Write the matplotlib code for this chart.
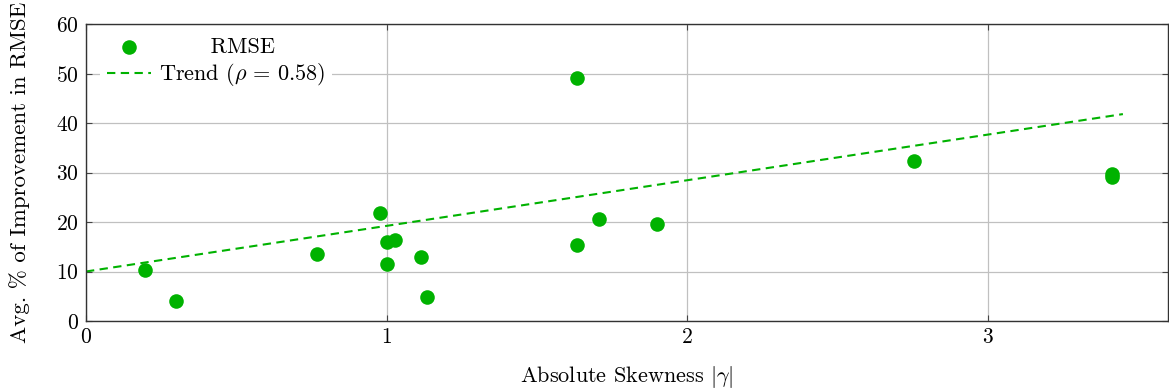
import matplotlib
matplotlib.use("Agg")
import matplotlib.pyplot as plt
import numpy as np

plt.rcParams['font.family'] = 'serif'
plt.rcParams['font.serif'] = ['cmr10']
plt.rcParams['mathtext.fontset'] = 'cm'
plt.rcParams['axes.formatter.use_mathtext'] = True

skew = [0.196, 0.299, 0.767, 0.977, 1.0, 1.027, 1.0, 1.113, 1.136, 1.635, 1.635, 1.708, 1.90, 2.754, 3.415, 3.415]
improve = [10.3, 4.0, 13.5, 21.8, 16.0, 16.4, 11.5, 12.9, 4.8, 49.1, 15.4, 20.6, 19.6, 32.3, 29.0, 29.6]
trend_x = [0.0, 3.45]
trend_y = [10.0, 41.8]
xticks = [0, 1, 2, 3]
yticks = [0, 10, 20, 30, 40, 50, 60]

green = '#00b200'

fig = plt.figure(figsize=(11.69, 3.92), dpi=100)
ax = fig.add_axes([86/1169, 71/392, (1168-86)/1169, (321-24)/392])

ax.scatter(skew, improve, s=110, color=green, zorder=3, label='       RMSE', linewidths=0)
ax.plot(trend_x, trend_y, '--', color=green, lw=1.5, dashes=(4, 2.6), zorder=2,
        label=r'Trend ($\rho\,=\,0.58$)')

ax.set_xlim(0, 3.6)
ax.set_ylim(0, 60)
ax.set_xticks(xticks)
ax.set_yticks(yticks)
ax.grid(True, color='#c0c0c0', lw=0.9)
ax.set_axisbelow(True)
ax.tick_params(direction='in', top=True, right=True, labelsize=15.5, length=4,
               color='#444444', pad=5)
for s in ax.spines.values():
    s.set_color('#333333')
    s.set_linewidth(1.0)

ax.set_xlabel(r'Absolute Skewness $|\gamma|$', fontsize=16, labelpad=12)
ax.set_ylabel('Avg. % of Improvement in RMSE', fontsize=16.5, labelpad=19)

leg = ax.legend(loc='upper left', bbox_to_anchor=(0.007, 1.0), frameon=True,
                fontsize=16, handlelength=2.0,
                borderaxespad=0.3, handletextpad=0.35, labelspacing=0.2,
                borderpad=0.3)
leg.get_frame().set_edgecolor('none')
leg.get_frame().set_facecolor('white')
leg.get_frame().set_alpha(1)

fig.savefig('out.png', dpi=100)
